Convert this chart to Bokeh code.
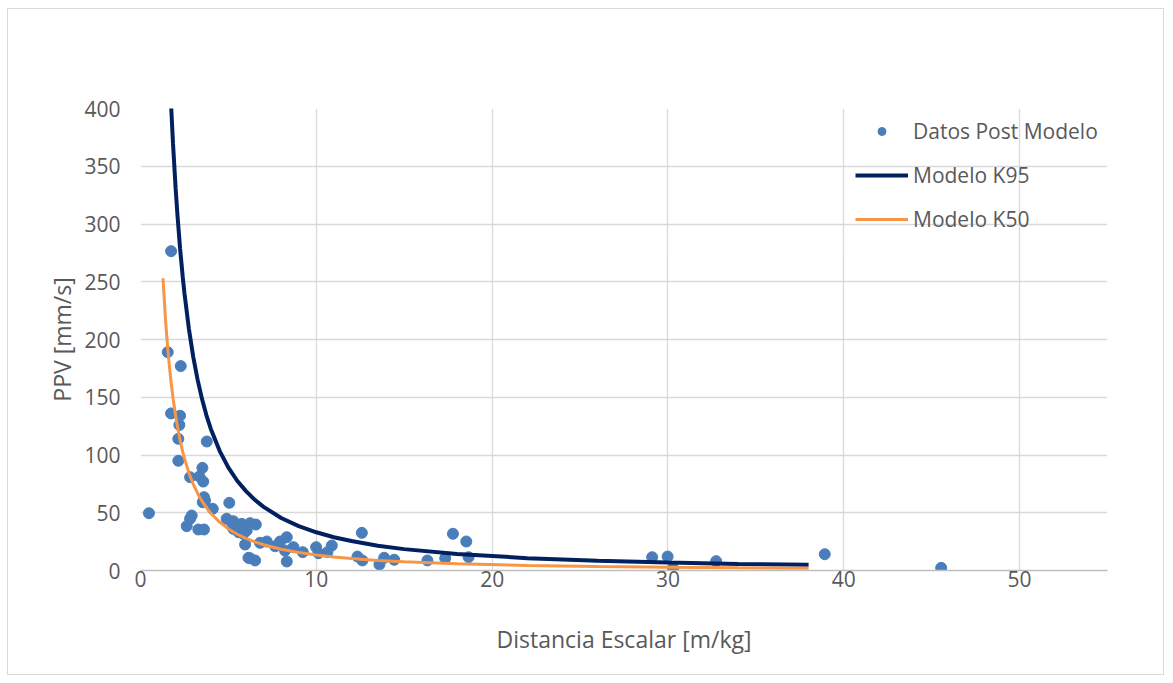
from bokeh.plotting import figure
from bokeh.embed import file_html
from bokeh.resources import INLINE
from bokeh.models import Range1d, FixedTicker, Legend, LegendItem

# Scatter data: Distancia Escalar [m/kg] vs PPV [mm/s]
datos_x = [0.48, 1.74, 1.55, 2.29, 1.74, 2.25, 2.21, 2.15, 3.77, 2.15,
           2.82, 3.35, 3.52, 3.57, 3.61, 3.67, 3.54, 4.11, 5.05, 2.91,
           2.82, 2.63, 3.29, 3.61, 4.90, 5.28, 5.95, 6.14, 5.19, 5.38,
           5.28, 5.76, 6.23, 6.56, 6.04, 5.85, 5.57, 6.80, 7.18, 7.66,
           7.94, 8.32, 8.22, 8.70, 8.32, 6.23, 6.52, 9.23, 9.99, 10.12,
           10.63, 10.88, 12.59, 12.34, 12.62, 13.59, 13.86, 14.43, 16.32, 17.33,
           17.77, 18.53, 18.66, 29.10, 29.98, 30.29, 32.74, 38.92, 45.54]
datos_y = [49.6, 276.5, 189.0, 177.0, 136.0, 134.0, 126.0, 114.0, 111.7, 95.0,
           80.8, 81.4, 88.9, 77.0, 63.5, 60.6, 59.1, 53.4, 58.6, 47.6,
           44.8, 38.4, 35.5, 35.5, 44.8, 42.7, 22.5, 11.0, 41.8, 39.0,
           36.1, 40.4, 41.0, 39.8, 34.6, 31.8, 33.2, 24.0, 25.1, 21.0,
           25.1, 28.8, 17.3, 20.2, 7.8, 10.6, 8.7, 15.9, 20.2, 15.0,
           15.9, 21.6, 32.6, 12.1, 8.7, 5.2, 11.0, 9.3, 8.7, 10.6,
           31.8, 25.1, 11.5, 11.5, 12.1, 2.0, 8.1, 14.1, 2.3]

# Model curves (values read/estimated from the picture)
modelo_x = [1.28, 1.4, 1.45, 1.5, 1.55, 1.6, 1.7, 1.75, 1.85, 2.0, 2.1, 2.25, 2.4, 2.5,
            2.75, 3.0, 3.25, 3.5, 3.75, 4.0, 4.5, 5.0, 5.5, 6.0, 6.5, 7.0, 8.0, 9.0,
            10.0, 11.0, 12.0, 13.5, 15.0, 18.0, 22.0, 26.0, 30.0, 34.0, 38.0]
k95_y = [625.0, 550.0, 523.1, 498.3, 475.5, 454.5, 416.7, 399.8, 369.3, 330.4, 308.1, 279.1, 254.5, 240.1,
         209.5, 185.0, 165.0, 148.4, 134.4, 122.6, 103.6, 89.1, 77.7, 68.7, 61.2, 55.1, 45.5, 38.4,
         33.1, 28.8, 25.5, 21.5, 18.5, 14.3, 10.7, 8.4, 6.9, 5.7, 4.9]
k50_y = [253.0, 222.5, 211.6, 201.6, 192.3, 183.9, 168.6, 161.7, 149.4, 133.6, 124.6, 112.9, 102.9, 97.1,
         84.7, 74.8, 66.7, 60.0, 54.4, 49.6, 41.9, 36.0, 31.4, 27.8, 24.8, 22.3, 18.4, 15.6,
         13.4, 11.7, 10.3, 8.7, 7.5, 5.8, 4.3, 3.4, 2.8, 2.3, 2.0]

x_ticks = [0, 10, 20, 30, 40, 50]
y_ticks = [0, 50, 100, 150, 200, 250, 300, 350, 400]

FONT = "Open Sans"
TXT = "#595959"

p = figure(width=1157, height=667, output_backend="svg", toolbar_location=None,
           x_range=Range1d(0, 55), y_range=Range1d(0, 400),
           min_border_left=132, min_border_right=58, min_border_top=99, min_border_bottom=106)
p.styles = {"border": "1px solid #d9d9d9", "margin-left": "7px", "margin-top": "8px"}
p.outline_line_color = None
p.background_fill_color = "white"
p.border_fill_color = "white"

p.xaxis.ticker = FixedTicker(ticks=x_ticks)
p.yaxis.ticker = FixedTicker(ticks=y_ticks)
p.xgrid.ticker = FixedTicker(ticks=x_ticks + [55])
p.ygrid.ticker = FixedTicker(ticks=y_ticks)
p.xgrid.grid_line_color = "#d9d9d9"
p.ygrid.grid_line_color = "#d9d9d9"
p.xgrid.grid_line_width = 1.3
p.ygrid.grid_line_width = 1.3

for ax in (p.xaxis, p.yaxis):
    ax.major_tick_line_color = None
    ax.minor_tick_line_color = None
    ax.major_label_text_font = FONT
    ax.major_label_text_font_size = "21px"
    ax.major_label_text_color = TXT
    ax.axis_label_text_font = FONT
    ax.axis_label_text_font_size = "23px"
    ax.axis_label_text_color = TXT
    ax.axis_label_text_font_style = "normal"

p.xaxis.axis_line_color = "#bfbfbf"
p.xaxis.axis_line_width = 1.5
p.yaxis.axis_line_color = None
p.xaxis.major_label_standoff = -6
p.yaxis.major_label_standoff = 14
p.xaxis.axis_label = "Distancia Escalar [m/kg]"
p.yaxis.axis_label = "PPV [mm/s]"
p.xaxis.axis_label_standoff = 33
p.yaxis.axis_label_standoff = 3

r_pts = p.scatter(datos_x, datos_y, size=11, color="#4a7ebb", line_color="#4a7ebb")
r_k95 = p.line(modelo_x, k95_y, line_color="#002060", line_width=4)
r_k50 = p.line(modelo_x, k50_y, line_color="#f79646", line_width=3)

legend = Legend(items=[
    LegendItem(label="Datos Post Modelo", renderers=[r_pts]),
    LegendItem(label="Modelo K95", renderers=[r_k95]),
    LegendItem(label="Modelo K50", renderers=[r_k50]),
], location=(715, 337))
legend.label_text_font = FONT
legend.label_text_font_size = "21px"
legend.label_text_color = TXT
legend.glyph_width = 53
legend.glyph_height = 20
legend.spacing = 16
legend.padding = 0
legend.margin = 0
legend.label_standoff = 5
legend.border_line_color = None
legend.background_fill_alpha = 0
p.add_layout(legend)

open("out.html", "w").write(file_html(p, INLINE))
